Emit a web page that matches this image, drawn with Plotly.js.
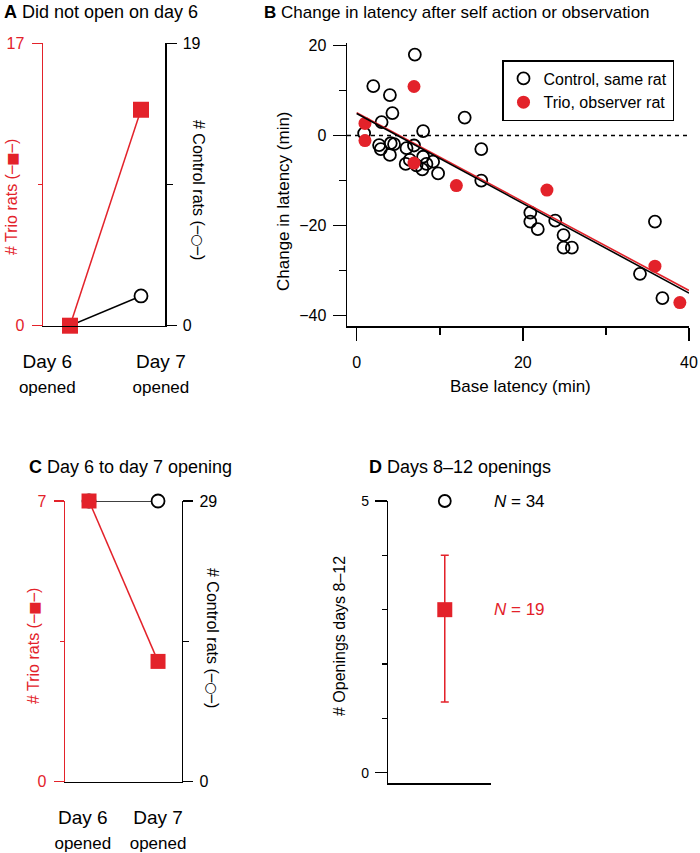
<!DOCTYPE html>
<html>
<head>
<meta charset="utf-8">
<script src="https://cdn.plot.ly/plotly-3.0.1.min.js"></script>
<style>html,body{margin:0;padding:0;background:#fff;}#chart{width:700px;height:853px;}</style>
</head>
<body>
<div id="chart"></div>
<script>
// ---------- DATA ----------
// Panel A: did not open on day 6
const dayIndex = [0, 1];
const dayLabels = ['Day 6', 'Day 7'];
const dayCaption = 'opened';
const trioA = [0, 13];
const controlA = [0, 2];
const trioAMax = 17;
const controlAMax = 19;

// Panel B: change in latency vs base latency
const ctrlBase = [7, 2, 4, 4.3, 3, 0.9, 8, 13, 15, 15, 2.7, 2.9, 4.0, 4.1, 4.5, 6.0, 6.9, 5.9, 6.4, 7.2, 7.9, 8.0, 8.4, 9.2, 9.8, 20.9, 20.9, 21.8, 23.9, 24.9, 24.9, 25.9, 34.1, 35.9, 36.8];
const ctrlChange = [18, 11, 9, 5, 3, 0.5, 1, 4, -3, -10, -2.1, -3.0, -4.3, -1.7, -1.9, -2.8, -2.2, -6.3, -5.4, -6.6, -7.5, -4.7, -6.3, -5.8, -8.4, -17.1, -19.1, -20.8, -18.9, -22.1, -24.9, -24.9, -30.7, -19.1, -36.1];
const trioBase = [1.0, 1.0, 6.9, 6.9, 12, 22.9, 35.9, 38.9];
const trioChange = [2.7, -1.1, 10.9, -6.1, -11.1, -12.1, -29.0, -37.1];
const fitX = [0, 40];
const ctrlFitY = [4.9, -35.0];
const trioFitY = [5.1, -34.4];
const seriesNames = ['Control, same rat', 'Trio, observer rat'];

// Panel C: day 6 to day 7 opening
const trioC = [7, 3];
const controlC = [29, 29];
const trioCMax = 7;
const controlCMax = 29;

// Panel D: days 8-12 openings
const ctrlD = [5];
const trioD = [3];
const trioDUp = [1.0];
const trioDDown = [1.7];
const nCtrl = 34;
const nTrio = 19;

// ---------- STYLE / LAYOUT ----------
const W = 700, H = 853;
const px = v => v / W;
const py = v => 1 - v / H;
const RED = '#e3222a';
const FONT = 'Liberation Sans, Arial, Helvetica, sans-serif';
const SYMFONT = 'DejaVu Sans';
const LW = 1.5;

const dayTickText = dayLabels.map(d => d + '<br><span style="font-size:17px">' + dayCaption + '</span>');
const trioTitle = '# Trio rats (<span style="font-family:' + SYMFONT + ';font-size:14px">─■─</span>)';
const ctrlTitle = '# Control rats (<span style="font-family:' + SYMFONT + ';font-size:14px">─○─</span>)';

function baseAxis(extra) {
  return Object.assign({
    showgrid: false, zeroline: false, showline: true, linecolor: 'black', linewidth: LW,
    ticks: 'outside', tickcolor: 'black', tickwidth: LW, fixedrange: true,
    tickfont: {family: FONT, size: 16, color: 'black'}
  }, extra);
}

const traces = [
  // Panel A
  {x: dayIndex, y: controlA, xaxis: 'x', yaxis: 'y', mode: 'lines+markers', cliponaxis: false, showlegend: false,
   line: {color: 'black', width: LW}, marker: {symbol: 'circle', size: 13, color: 'white', line: {color: 'black', width: 1.8}}},
  {x: dayIndex, y: trioA, xaxis: 'x', yaxis: 'y2', mode: 'lines+markers', cliponaxis: false, showlegend: false,
   line: {color: RED, width: LW}, marker: {symbol: 'square', size: 16, color: RED}},
  // Panel B
  {x: ctrlBase, y: ctrlChange, xaxis: 'x3', yaxis: 'y3', mode: 'markers', name: seriesNames[0], cliponaxis: false,
   marker: {symbol: 'circle-open', size: 12, color: 'black', line: {width: 1.8}}},
  {x: trioBase, y: trioChange, xaxis: 'x3', yaxis: 'y3', mode: 'markers', name: seriesNames[1], cliponaxis: false,
   marker: {symbol: 'circle', size: 13, color: RED}},
  {x: fitX, y: trioFitY, xaxis: 'x3', yaxis: 'y3', mode: 'lines', showlegend: false, line: {color: RED, width: 1.6}},
  {x: fitX, y: ctrlFitY, xaxis: 'x3', yaxis: 'y3', mode: 'lines', showlegend: false, line: {color: 'black', width: 1.6}},
  // Panel C
  {x: dayIndex, y: controlC, xaxis: 'x4', yaxis: 'y4', mode: 'lines+markers', cliponaxis: false, showlegend: false,
   line: {color: 'black', width: LW}, marker: {symbol: 'circle', size: 13, color: 'white', line: {color: 'black', width: 1.8}}},
  {x: dayIndex, y: trioC, xaxis: 'x4', yaxis: 'y5', mode: 'lines+markers', cliponaxis: false, showlegend: false,
   line: {color: RED, width: LW}, marker: {symbol: 'square', size: 15, color: RED}},
  // Panel D
  {x: [0], y: ctrlD, xaxis: 'x6', yaxis: 'y6', mode: 'markers', cliponaxis: false, showlegend: false,
   marker: {symbol: 'circle-open', size: 12, color: 'black', line: {width: 1.8}}},
  {x: [0], y: trioD, xaxis: 'x6', yaxis: 'y6', mode: 'markers', cliponaxis: false, showlegend: false,
   marker: {symbol: 'square', size: 15, color: RED},
   error_y: {type: 'data', symmetric: false, array: trioDUp, arrayminus: trioDDown, color: RED, thickness: LW, width: 4}}
];

const layout = {
  width: W, height: H,
  margin: {l: 0, r: 0, t: 0, b: 0},
  paper_bgcolor: 'white', plot_bgcolor: 'rgba(0,0,0,0)',
  font: {family: FONT, size: 16, color: 'black'},
  showlegend: true,
  legend: {x: px(502), y: py(60), xanchor: 'left', yanchor: 'top', bgcolor: 'white',
           bordercolor: 'black', borderwidth: 1.5, font: {family: FONT, size: 16, color: 'black'},
           itemclick: false, itemdoubleclick: false},

  // ---- Panel A ----
  xaxis: baseAxis({domain: [px(43), px(165)], range: [-0.380, 1.338], anchor: 'y', ticks: '',
    tickvals: [-0.32, 1.28], ticktext: dayTickText, ticklabelstandoff: 18,
    tickfont: {family: FONT, size: 19, color: 'black'}}),
  yaxis: baseAxis({domain: [py(325.7), py(43.3)], range: [0, controlAMax], anchor: 'x', side: 'right',
    tickvals: [0, controlAMax], ticklen: 10, ticklabelstandoff: 3,
    minor: {tick0: 0, dtick: controlAMax / 2, ticks: 'outside', ticklen: 6, tickwidth: LW, tickcolor: 'black'}}),
  yaxis2: baseAxis({domain: [py(325.7), py(43.3)], range: [0, trioAMax], anchor: 'x', overlaying: 'y', side: 'left',
    linecolor: RED, tickcolor: RED, tickvals: [0, trioAMax], ticklen: 10, ticklabelstandoff: 4,
    tickfont: {family: FONT, size: 16, color: RED},
    minor: {tick0: 0, dtick: trioAMax / 2, ticks: 'outside', ticklen: 4, tickwidth: LW, tickcolor: RED}}),

  // ---- Panel B ----
  xaxis3: baseAxis({domain: [px(347), px(689)], range: [-1.164, 40], anchor: 'y3',
    tickvals: [0, 20, 40], ticklen: 13, ticklabelstandoff: 8,
    minor: {tick0: 0, dtick: 10, ticks: 'outside', ticklen: 7, tickwidth: LW, tickcolor: 'black'}}),
  yaxis3: baseAxis({domain: [py(326), py(43.3)], range: [-42.3, 20.5], anchor: 'x3',
    tickvals: [-40, -20, 0, 20], ticklen: 13, ticklabelstandoff: 3,
    minor: {tick0: 0, dtick: 10, ticks: 'outside', ticklen: 7, tickwidth: LW, tickcolor: 'black'}}),

  // ---- Panel C ----
  xaxis4: baseAxis({domain: [px(65), px(181.7)], range: [-0.348, 1.343], anchor: 'y4', ticks: '',
    tickvals: [-0.09, 1.0], ticktext: dayTickText, ticklabelstandoff: 18,
    tickfont: {family: FONT, size: 19, color: 'black'}}),
  yaxis4: baseAxis({domain: [py(781.7), py(501)], range: [0, controlCMax], anchor: 'x4', side: 'right',
    tickvals: [0, controlCMax], ticklen: 10, ticklabelstandoff: 3,
    minor: {tick0: 0, dtick: controlCMax / 2, ticks: 'outside', ticklen: 6, tickwidth: LW, tickcolor: 'black'}}),
  yaxis5: baseAxis({domain: [py(781.7), py(501)], range: [0, trioCMax], anchor: 'x4', overlaying: 'y4', side: 'left',
    linecolor: RED, tickcolor: RED, tickvals: [0, trioCMax], ticklen: 10, ticklabelstandoff: 4,
    tickfont: {family: FONT, size: 16, color: RED},
    minor: {tick0: 0, dtick: trioCMax / 2, ticks: 'outside', ticklen: 4, tickwidth: LW, tickcolor: RED}}),

  // ---- Panel D ----
  xaxis6: baseAxis({domain: [px(388.3), px(491)], range: [-0.55, 0.45], anchor: 'y6', ticks: '', showticklabels: false}),
  yaxis6: baseAxis({domain: [py(783.3), py(501)], range: [-0.195, 5], anchor: 'x6',
    tickvals: [0, 5], ticklen: 12, ticklabelstandoff: 3, tickfont: {family: FONT, size: 14, color: 'black'},
    minor: {tick0: 0, dtick: 1, ticks: 'outside', ticklen: 5, tickwidth: LW, tickcolor: 'black'}}),

  shapes: [
    {type: 'line', xref: 'x3', yref: 'y3', x0: -1.164, x1: 40, y0: 0, y1: 0,
     line: {color: 'black', width: 1.5, dash: '4px,4px'}, layer: 'below'}
  ],

  annotations: [
    // panel titles
    {xref: 'paper', yref: 'paper', x: px(2), y: py(12), xanchor: 'left', yanchor: 'middle', showarrow: false,
     text: '<b>A</b> Did not open on day 6', font: {family: FONT, size: 18, color: 'black'}},
    {xref: 'paper', yref: 'paper', x: px(262), y: py(12), xanchor: 'left', yanchor: 'middle', showarrow: false,
     text: '<b>B</b> Change in latency after self action or observation', font: {family: FONT, size: 17, color: 'black'}},
    {xref: 'paper', yref: 'paper', x: px(27), y: py(467), xanchor: 'left', yanchor: 'middle', showarrow: false,
     text: '<b>C</b> Day 6 to day 7 opening', font: {family: FONT, size: 18, color: 'black'}},
    {xref: 'paper', yref: 'paper', x: px(367), y: py(467), xanchor: 'left', yanchor: 'middle', showarrow: false,
     text: '<b>D</b> Days 8–12 openings', font: {family: FONT, size: 18, color: 'black'}},
    // axis titles A
    {xref: 'paper', yref: 'paper', x: px(11), y: py(197), xanchor: 'center', yanchor: 'middle', showarrow: false,
     textangle: -90, text: trioTitle, font: {family: FONT, size: 16, color: RED}},
    {xref: 'paper', yref: 'paper', x: px(198), y: py(190), xanchor: 'center', yanchor: 'middle', showarrow: false,
     textangle: 90, text: ctrlTitle, font: {family: FONT, size: 16, color: 'black'}},
    // axis titles B
    {xref: 'paper', yref: 'paper', x: px(283), y: py(201), xanchor: 'center', yanchor: 'middle', showarrow: false,
     textangle: -90, text: 'Change in latency (min)', font: {family: FONT, size: 17, color: 'black'}},
    {xref: 'paper', yref: 'paper', x: px(520), y: py(387), xanchor: 'center', yanchor: 'middle', showarrow: false,
     text: 'Base latency (min)', font: {family: FONT, size: 17, color: 'black'}},
    // axis titles C
    {xref: 'paper', yref: 'paper', x: px(33), y: py(646), xanchor: 'center', yanchor: 'middle', showarrow: false,
     textangle: -90, text: trioTitle, font: {family: FONT, size: 16, color: RED}},
    {xref: 'paper', yref: 'paper', x: px(213), y: py(638), xanchor: 'center', yanchor: 'middle', showarrow: false,
     textangle: 90, text: ctrlTitle, font: {family: FONT, size: 16, color: 'black'}},
    // axis title D
    {xref: 'paper', yref: 'paper', x: px(339), y: py(636), xanchor: 'center', yanchor: 'middle', showarrow: false,
     textangle: -90, text: '# Openings days 8–12', font: {family: FONT, size: 16, color: 'black'}},
    // N labels D
    {xref: 'paper', yref: 'y6', x: px(492), y: ctrlD[0], xanchor: 'left', yanchor: 'middle', showarrow: false,
     text: '<i>N</i> = ' + nCtrl, font: {family: FONT, size: 17, color: 'black'}},
    {xref: 'paper', yref: 'y6', x: px(492), y: trioD[0], xanchor: 'left', yanchor: 'middle', showarrow: false,
     text: '<i>N</i> = ' + nTrio, font: {family: FONT, size: 17, color: RED}}
  ]
};

Plotly.newPlot('chart', traces, layout, {staticPlot: true, displayModeBar: false});
</script>
</body>
</html>
